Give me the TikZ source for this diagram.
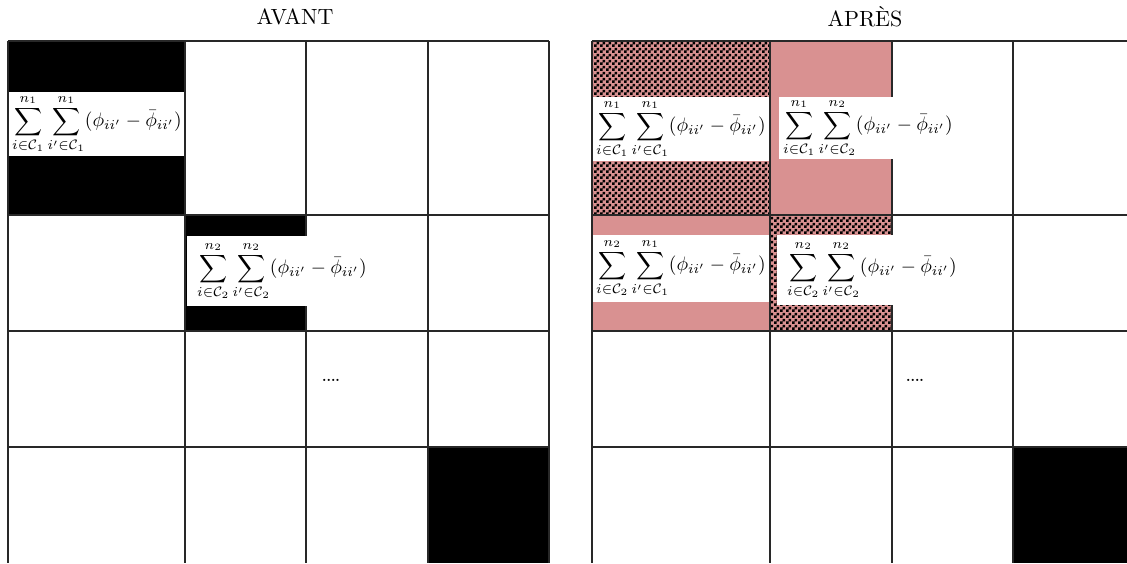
\documentclass[tikz,border=0pt]{standalone}
\usepackage{amsmath}
\usetikzlibrary{patterns}
\definecolor{rosec}{RGB}{217,145,145}
\definecolor{gridc}{RGB}{40,40,40}
\pgfdeclarepatternformonly{mycheck}{\pgfpointorigin}{\pgfpoint{6pt}{6pt}}{\pgfpoint{6pt}{6pt}}{%
  \pgfpathrectangle{\pgfpointorigin}{\pgfpoint{3pt}{3pt}}%
  \pgfpathrectangle{\pgfpoint{3pt}{3pt}}{\pgfpoint{3pt}{3pt}}%
  \pgfusepath{fill}}
\tikzset{
  gridline/.style={draw=gridc, line width=1.3pt},
  blackcell/.style={fill=black},
  rosecell/.style={fill=rosec},
  checkcell/.style={pattern=mycheck, pattern color=black},
  whitebox/.style={fill=white},
  formula/.style={inner sep=0pt, scale=1.95, transform shape},
  title/.style={inner sep=0pt, scale=2.2, transform shape},
  dots/.style={inner sep=0pt, scale=1.4, transform shape, font=\bfseries},
}
\newcommand{\myform}[4]{$\displaystyle\sum_{i\in\mathcal{C}_{#1}}^{n_{#2}}\sum_{i'\in\mathcal{C}_{#3}}^{n_{#4}}(\phi_{ii'}-\bar{\phi}_{ii'})$}
\begin{document}
\begin{tikzpicture}[x=1pt,y=-1pt]
\useasboundingbox (0,0) rectangle (1127,563);
\fill[white] (0,0) rectangle (1127,563);
% ---- left grid fills
\fill[blackcell] (8,41) rectangle (185,215);
\fill[blackcell] (185,215) rectangle (306,331);
\fill[blackcell] (428,447) rectangle (549,563);
% ---- right grid fills
\fill[rosecell] (592,41) rectangle (770,215);
\fill[checkcell] (592,41) rectangle (770,215);
\fill[rosecell] (770,41) rectangle (892,215);
\fill[rosecell] (592,215) rectangle (770,331);
\fill[rosecell] (770,215) rectangle (892,331);
\fill[checkcell] (770,215) rectangle (892,331);
\fill[blackcell] (1013,447) rectangle (1127,563);
% ---- grid lines
\foreach \x in {8,185,306,428,549} {\draw[gridline] (\x,41) -- (\x,563);}
\foreach \y in {41,215,331,447} {\draw[gridline] (8,\y) -- (549,\y);}
\foreach \x in {592,770,892,1013} {\draw[gridline] (\x,41) -- (\x,563);}
\foreach \y in {41,215,331,447} {\draw[gridline] (592,\y) -- (1127,\y);}
% ---- white boxes
\fill[whitebox] (9,92) rectangle (184,156);
\fill[whitebox] (187,236) rectangle (372,306);
\fill[whitebox] (593,97) rectangle (769,161);
\fill[whitebox] (779,97) rectangle (958,159);
\fill[whitebox] (593,235) rectangle (769,302);
\fill[whitebox] (777,235) rectangle (960,305);
% ---- formulas
\node[formula] (fa) at (97,124) {\myform{1}{1}{1}{1}};
\node[formula] (fb) at (282,271) {\myform{2}{2}{2}{2}};
\node[formula] (fc) at (681,129) {\myform{1}{1}{1}{1}};
\node[formula] (fd) at (868,128) {\myform{1}{1}{2}{2}};
\node[formula] (fe) at (681,268) {\myform{2}{2}{1}{1}};
\node[formula] (ff) at (872,270) {\myform{2}{2}{2}{2}};
% ---- dots
\node[dots] (da) at (331,380) {....};
\node[dots] (db) at (915,380) {....};
% ---- titles
\node[title] (ta) at (295,17) {AVANT};
\node[title] (tb) at (865,17) {APR\`ES};
\end{tikzpicture}
\end{document}
